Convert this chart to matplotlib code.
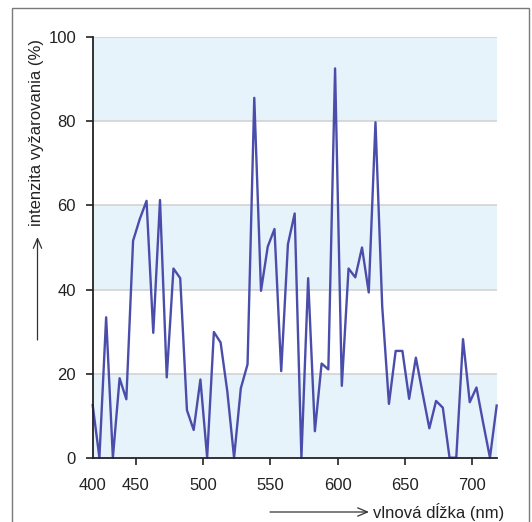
import matplotlib.pyplot as plt
from matplotlib.patches import Rectangle

# wavelength samples (nm) - axis actually starts near 418 nm
wavelength = [418, 423, 428, 433, 438, 443, 448, 453, 458, 463,
              468, 473, 478, 483, 488, 493, 498, 503, 508, 513,
              518, 523, 528, 533, 538, 543, 548, 553, 558, 563,
              568, 573, 578, 583, 588, 593, 598, 603, 608, 613,
              618, 623, 628, 633, 638, 643, 648, 653, 658, 663,
              668, 673, 678, 683, 688, 693, 698, 703, 708, 713,
              718]
# emission intensity (%)
intensity = [12.5, 0, 33.4, 0, 18.9, 13.9, 51.6, 56.8, 61.1, 29.7,
             61.3, 19.1, 45.0, 42.7, 11.3, 6.6, 18.6, 0, 29.9, 27.4,
             15.7, 0, 16.5, 22.2, 85.6, 39.7, 50.2, 54.4, 20.6, 50.8,
             58.1, 0, 42.7, 6.3, 22.4, 21.0, 92.6, 17.1, 45.0, 42.9,
             50.0, 39.3, 79.8, 36.0, 12.8, 25.4, 25.4, 14.0, 23.8, 15.3,
             7.0, 13.5, 11.9, 0, 0, 28.2, 13.2, 16.7, 8.2, 0,
             12.4]

x_tick_pos = [418, 450, 500, 550, 600, 650, 700]
x_tick_labels = ['400', '450', '500', '550', '600', '650', '700']
y_ticks = [0, 20, 40, 60, 80, 100]

plt.rcParams['font.family'] = ['Liberation Sans', 'DejaVu Sans']

fig = plt.figure(figsize=(5.32, 5.22), dpi=100)
ax = fig.add_axes([0.1742, 0.1232, 0.7594, 0.8053])

# alternating bands
for lo in [0, 40, 80]:
    ax.axhspan(lo, lo + 20, color='#e6f3fa', lw=0, zorder=0)
for y in y_ticks[1:]:
    ax.axhline(y, color='#d0d0d0', lw=1.1, zorder=1)

ax.plot(wavelength, intensity, color='#4a4eaa', lw=1.7, zorder=2, clip_on=False)

ax.set_xlim(418, 718)
ax.set_ylim(0, 100)
ax.set_xticks(x_tick_pos)
ax.set_xticklabels(x_tick_labels)
ax.set_yticks(y_ticks)
ax.tick_params(axis='both', labelsize=12, colors='#222222', length=5, width=1.2)
ax.tick_params(axis='x', pad=9.5)
ax.tick_params(axis='y', pad=7)
ax.xaxis.get_major_ticks()[0].tick1line.set_visible(False)
for s in ['top', 'right']:
    ax.spines[s].set_visible(False)
for s in ['left', 'bottom']:
    ax.spines[s].set_linewidth(1.3)
    ax.spines[s].set_color('#222222')

# axis labels with arrows
W, H = 532, 522
fig.text(37 / W, 1 - 133 / H, 'intenzita vyžarovania (%)', rotation=90,
         ha='center', va='center', fontsize=12, color='#222222')
fig.text(373 / W, 1 - 512 / H, 'vlnová dĺžka (nm)', ha='left', va='center',
         fontsize=12, color='#222222')
arrow = dict(arrowstyle='->,head_length=0.7,head_width=0.3', lw=0.9, color='#333333',
             shrinkA=0, shrinkB=0)
ax.annotate('', xy=(37.5 / W, 1 - 237 / H), xytext=(37.5 / W, 1 - 340 / H),
            xycoords='figure fraction', textcoords='figure fraction', arrowprops=arrow)
ax.annotate('', xy=(369 / W, 1 - 512 / H), xytext=(270 / W, 1 - 512 / H),
            xycoords='figure fraction', textcoords='figure fraction', arrowprops=arrow)

# outer frame
fig.patches.append(Rectangle((12 / W, -0.05), 517 / W, 1 - 8 / H + 0.05,
                             transform=fig.transFigure, fill=False,
                             edgecolor='#7a7a7a', lw=1.0))

plt.savefig('out.png', dpi=100)
